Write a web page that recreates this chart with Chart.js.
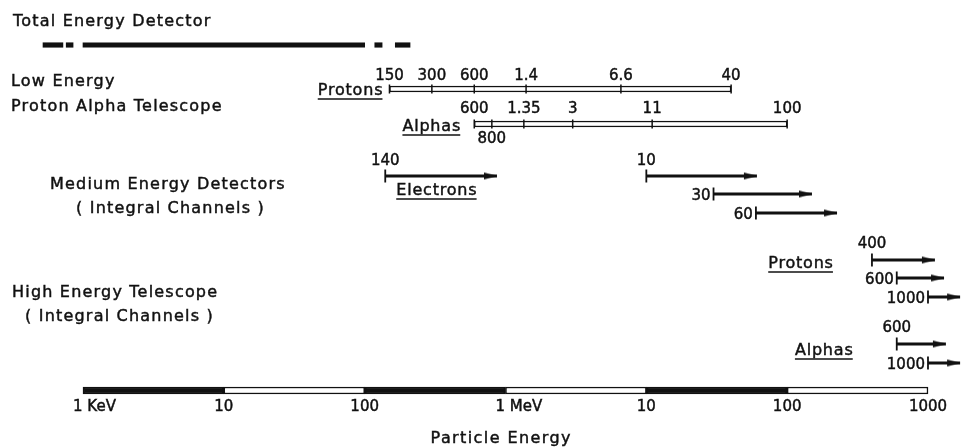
<!DOCTYPE html>
<html>
<head>
<meta charset="utf-8">
<script src="https://cdn.jsdelivr.net/npm/chart.js@4/dist/chart.umd.min.js"></script>
<style>
html,body{margin:0;padding:0;background:#fff;}
#wrap{position:relative;width:961px;height:448px;}
</style>
</head>
<body>
<div id="wrap"><canvas id="c"></canvas></div>
<script>
// ---------------- DATA (energies in keV) ----------------
const tedSegments = [[0.52, 0.72], [0.76, 0.85], [1, 100], [118, 133], [165, 210]];

const leptProtonTicks  = [150, 300, 600, 1400, 6600, 40000];
const leptProtonLabels = ['150', '300', '600', '1.4', '6.6', '40'];

const leptAlphaTicks  = [600, 800, 1350, 3000, 11000, 100000];
const leptAlphaLabels = ['600', '800', '1.35', '3', '11', '100'];

const medElectronStarts = [140, 10000, 30000, 60000];
const medElectronEnds   = [870, 61000, 150000, 226000];
const medElectronLabels = ['140', '10', '30', '60'];

const hetProtonStarts = [400000, 600000, 1000000];
const hetProtonEnds   = [1120000, 1300000, 1690000];
const hetProtonLabels = ['400', '600', '1000'];

const hetAlphaStarts = [600000, 1000000];
const hetAlphaEnds   = [1340000, 1690000];
const hetAlphaLabels = ['600', '1000'];

const axisTicks      = [1, 10, 100, 1000, 10000, 100000, 1000000];
const axisTickLabels = ['1 KeV', '10', '100', '1 MeV', '10', '100', '1000'];

// ---------------- LAYOUT / STYLE ----------------
const INK = '#111111';
const X_MIN = 0.2574, X_MAX = 1.7155e6;
const ROW = {
  ted: 45, leptP: 89, leptA: 124,
  e: [176, 176, 194, 213],
  hp: [260, 278, 297],
  ha: [344, 363],
  axis: 390.5
};
const PLACE = {
  leptP: ['above', 'above', 'above', 'above', 'above', 'above'],
  leptA: ['above', 'below', 'above', 'above', 'above', 'above'],
  e: ['above', 'above', 'left', 'left'],
  hp: ['above', 'left', 'left'],
  ha: ['above', 'left']
};
const headings = [
  {text: 'Total Energy Detector', x: 13, y: 26},
  {text: 'Low Energy', x: 11, y: 86},
  {text: 'Proton Alpha Telescope', x: 11, y: 111},
  {text: 'Medium Energy Detectors', x: 50, y: 189},
  {text: '( Integral Channels )', x: 76, y: 213},
  {text: 'High Energy Telescope', x: 12, y: 297},
  {text: '( Integral Channels )', x: 25, y: 321}
];
const groupLabels = [
  {text: 'Protons',   anchor: leptProtonTicks[0],   row: ROW.leptP, dx: -7,  dy: 6,  align: 'right'},
  {text: 'Alphas',    anchor: leptAlphaTicks[0],    row: ROW.leptA, dx: -14, dy: 7,  align: 'right'},
  {text: 'Electrons', anchor: medElectronStarts[0], row: ROW.e[0],  dx: 11,  dy: 19, align: 'left'},
  {text: 'Protons',   anchor: hetProtonStarts[0],   row: ROW.hp[0], dx: -39, dy: 8,  align: 'right'},
  {text: 'Alphas',    anchor: hetAlphaStarts[0],    row: ROW.ha[0], dx: -44, dy: 11, align: 'right'}
];
const FONT_HEAD = '16px "DejaVu Sans"';
const FONT_NUM = '15px "DejaVu Sans"';

// arrowhead image (tip at image centre)
const arrowHead = (() => {
  const c = document.createElement('canvas');
  c.width = 28; c.height = 9;
  const g = c.getContext('2d');
  g.fillStyle = INK;
  g.beginPath();
  g.moveTo(1, 1); g.lineTo(14, 4.5); g.lineTo(1, 8); g.closePath();
  g.fill();
  return c;
})();

// ---------------- DATASETS ----------------
const datasets = [];

// Total energy detector (floating bars)
datasets.push({
  type: 'bar', indexAxis: 'y', grouped: false, order: 5,
  data: tedSegments.map(s => ({x: s, y: ROW.ted})),
  backgroundColor: INK, borderWidth: 0, barThickness: 4.5
});

// LEPT open bars
datasets.push({
  type: 'bar', indexAxis: 'y', grouped: false, order: 5,
  data: [
    {x: [leptProtonTicks[0], leptProtonTicks[leptProtonTicks.length - 1]], y: ROW.leptP},
    {x: [leptAlphaTicks[0], leptAlphaTicks[leptAlphaTicks.length - 1]], y: ROW.leptA}
  ],
  backgroundColor: '#ffffff', borderColor: INK, borderWidth: 1.5, borderSkipped: false, barThickness: 6
});

// Energy axis bar (alternating decades)
datasets.push({
  type: 'bar', indexAxis: 'y', grouped: false, order: 5,
  data: axisTicks.slice(0, -1).map((v, i) => ({x: [v, axisTicks[i + 1]], y: ROW.axis})),
  backgroundColor: axisTicks.slice(0, -1).map((v, i) => i % 2 === 0 ? INK : '#ffffff'),
  borderColor: INK, borderWidth: 1.5, borderSkipped: false, barThickness: 7
});

// LEPT tick marks
datasets.push({
  type: 'scatter', order: 0, showLine: false,
  data: leptProtonTicks.map(v => ({x: v, y: ROW.leptP}))
        .concat(leptAlphaTicks.map(v => ({x: v, y: ROW.leptA}))),
  pointStyle: 'line', pointRotation: 90, pointRadius: 4.5,
  pointBorderWidth: 1.5, pointBorderColor: INK, pointBackgroundColor: INK
});

// integral-channel arrows
function addArrows(starts, ends, rows) {
  starts.forEach((s, i) => {
    datasets.push({
      type: 'scatter', order: 1, showLine: true,
      data: [{x: s, y: rows[i]}, {x: ends[i], y: rows[i]}],
      borderColor: INK, borderWidth: 2.8, tension: 0,
      pointStyle: ctx => ctx.dataIndex === 0 ? 'line' : arrowHead,
      pointRotation: ctx => ctx.dataIndex === 0 ? 90 : 0,
      pointRadius: ctx => ctx.dataIndex === 0 ? 6.5 : 5,
      pointBorderWidth: 1.8, pointBorderColor: INK, pointBackgroundColor: INK
    });
  });
}
addArrows(medElectronStarts, medElectronEnds, ROW.e);
addArrows(hetProtonStarts, hetProtonEnds, ROW.hp);
addArrows(hetAlphaStarts, hetAlphaEnds, ROW.ha);

// ---------------- TEXT PLUGIN ----------------
function drawText(ctx, s, x, y, font, align, spacing, underline) {
  ctx.font = font;
  ctx.letterSpacing = (spacing || 0) + 'px';
  ctx.textAlign = 'left';
  ctx.textBaseline = 'alphabetic';
  const w = ctx.measureText(s).width - (spacing || 0);
  let left = x;
  if (align === 'right') left = x - w;
  else if (align === 'center') left = x - w / 2;
  ctx.lineWidth = 0.45;
  ctx.fillText(s, left, y);
  ctx.strokeText(s, left, y);
  if (underline) {
    ctx.lineWidth = 1.6;
    ctx.beginPath();
    ctx.moveTo(left, y + 4);
    ctx.lineTo(left + w, y + 4);
    ctx.stroke();
  }
  ctx.letterSpacing = '0px';
}

const annotations = {
  id: 'annotations',
  afterDatasetsDraw(chart) {
    const {ctx} = chart;
    const xs = chart.scales.x, ys = chart.scales.y;
    const X = v => xs.getPixelForValue(v), Y = v => ys.getPixelForValue(v);
    ctx.save();
    ctx.fillStyle = INK; ctx.strokeStyle = INK;

    headings.forEach(h => drawText(ctx, h.text, h.x, Y(h.y), FONT_HEAD, 'left', 1.2));

    const placeLabels = (vals, labels, rows, places, aboveOff) => {
      vals.forEach((v, i) => {
        const px = X(v), py = Y(Array.isArray(rows) ? rows[i] : rows);
        const p = places[i];
        if (p === 'above') drawText(ctx, labels[i], px, py - aboveOff, FONT_NUM, 'center', 0);
        else if (p === 'below') drawText(ctx, labels[i], px, py + 19, FONT_NUM, 'center', 0);
        else drawText(ctx, labels[i], px - 3, py + 5.5, FONT_NUM, 'right', 0);
      });
    };
    placeLabels(leptProtonTicks, leptProtonLabels, ROW.leptP, PLACE.leptP, 9);
    placeLabels(leptAlphaTicks, leptAlphaLabels, ROW.leptA, PLACE.leptA, 11);
    placeLabels(medElectronStarts, medElectronLabels, ROW.e, PLACE.e, 11);
    placeLabels(hetProtonStarts, hetProtonLabels, ROW.hp, PLACE.hp, 12);
    placeLabels(hetAlphaStarts, hetAlphaLabels, ROW.ha, PLACE.ha, 12);

    groupLabels.forEach(g => drawText(ctx, g.text, X(g.anchor) + g.dx, Y(g.row) + g.dy,
      FONT_HEAD, g.align, 0.8, true));

    axisTicks.forEach((v, i) => {
      const s = axisTickLabels[i];
      const px = X(v);
      if (s.indexOf('eV') >= 0) drawText(ctx, s, px - 10, Y(ROW.axis) + 20.5, FONT_NUM, 'left', 0);
      else drawText(ctx, s, px, Y(ROW.axis) + 20.5, FONT_NUM, 'center', 0);
    });

    drawText(ctx, 'Particle Energy', X(1000) - 5, Y(ROW.axis) + 52, FONT_HEAD, 'center', 1.4);
    ctx.restore();
  }
};

new Chart(document.getElementById('c'), {
  type: 'scatter',
  data: {datasets},
  options: {
    responsive: true,
    maintainAspectRatio: false,
    animation: false,
    events: [],
    layout: {padding: 0, autoPadding: false},
    plugins: {legend: {display: false}, tooltip: {enabled: false}, title: {display: false}},
    scales: {
      x: {type: 'logarithmic', min: X_MIN, max: X_MAX, display: false, offset: false, bounds: 'data'},
      y: {type: 'linear', min: 0, max: 448, reverse: true, display: false, offset: false, bounds: 'data'}
    }
  },
  plugins: [annotations]
});
</script>
</body>
</html>
